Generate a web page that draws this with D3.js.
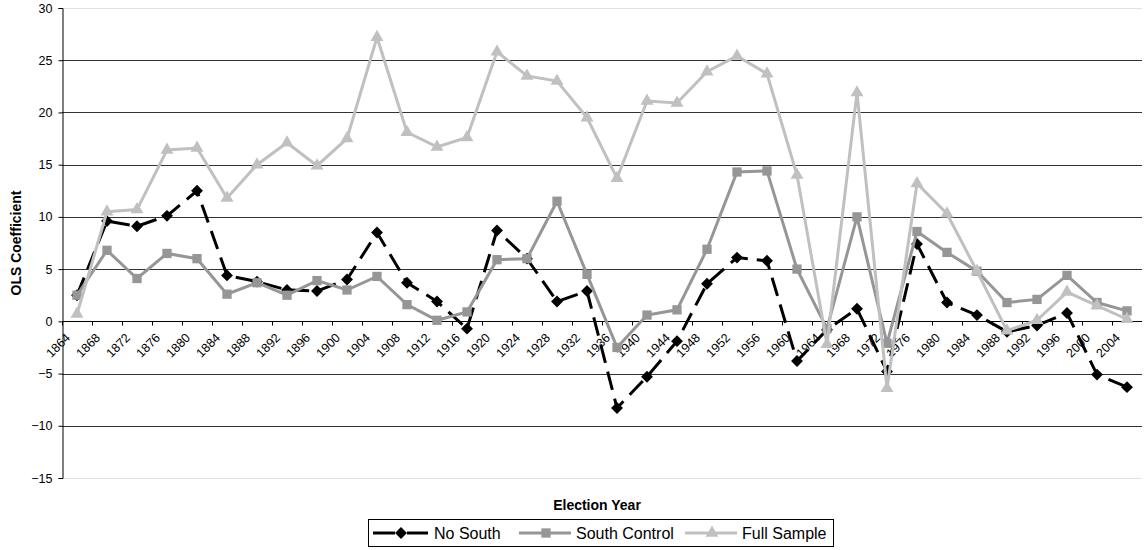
<!DOCTYPE html>
<html>
<head>
<meta charset="utf-8">
<script src="https://cdn.jsdelivr.net/npm/d3@7"></script>
<style>
  body { margin: 0; background: #fff; }
  text { font-family: "Liberation Sans", Arial, sans-serif; }
</style>
</head>
<body>
<svg id="chart"></svg>
<script>
const years = [1864, 1868, 1872, 1876, 1880, 1884, 1888, 1892, 1896, 1900,
    1904, 1908, 1912, 1916, 1920, 1924, 1928, 1932, 1936, 1940,
    1944, 1948, 1952, 1956, 1960, 1964, 1968, 1972, 1976, 1980,
    1984, 1988, 1992, 1996, 2000, 2004];

const noSouth = [2.5, 9.6, 9.1, 10.1, 12.5, 4.4, 3.8, 3.0, 2.9, 4.0,
    8.5, 3.7, 1.9, -0.7, 8.7, 6.0, 1.9, 2.9, -8.3, -5.3,
    -1.9, 3.6, 6.1, 5.8, -3.8, -0.8, 1.2, -4.8, 7.4, 1.8,
    0.6, -1.0, -0.4, 0.8, -5.1, -6.3];

const southControl = [2.5, 6.8, 4.1, 6.5, 6.0, 2.6, 3.7, 2.5, 3.9, 3.0,
    4.3, 1.6, 0.1, 0.9, 5.9, 6.0, 11.5, 4.5, -2.5, 0.6,
    1.1, 6.9, 14.3, 14.4, 5.0, -0.7, 10.0, -2.1, 8.6, 6.6,
    4.8, 1.8, 2.1, 4.4, 1.8, 1.0];

const fullSample = [0.7, 10.5, 10.7, 16.4, 16.6, 11.8, 15.0, 17.1, 14.9, 17.5,
    27.2, 18.1, 16.7, 17.6, 25.8, 23.5, 23.0, 19.5, 13.7, 21.1,
    20.9, 23.9, 25.4, 23.7, 14.0, -2.2, 21.9, -6.4, 13.2, 10.3,
    4.8, -0.9, 0.1, 2.8, 1.5, 0.2];

const yTicks = [-15, -10, -5, 0, 5, 10, 15, 20, 25, 30];

const w = 1146;
const h = 550;
const plotLeft = 62, plotRight = 1142, plotTop = 8, plotBottom = 478;

const svg = d3.select("#chart")
    .attr("width", w)
    .attr("height", h);

const x = d3.scaleBand()
    .domain(years)
    .range([plotLeft, plotRight])
    .padding(0);

const y = d3.scaleLinear()
    .domain([-15, 30])
    .range([plotBottom, plotTop]);

const cx = (d) => x(d) + x.bandwidth() / 2;

// gridlines
svg.append("g")
    .selectAll("line")
    .data(yTicks)
    .enter()
    .append("line")
    .attr("x1", plotLeft)
    .attr("x2", plotRight)
    .attr("y1", (d) => Math.round(y(d)) + 0.5)
    .attr("y2", (d) => Math.round(y(d)) + 0.5)
    .attr("stroke", (d) => (d === 30 || d === -15) ? "#e2e2e2" : "#333")
    .attr("stroke-width", 1.2);

// y axis
const yAxis = d3.axisLeft(y)
    .tickValues(yTicks)
    .tickSize(4)
    .tickPadding(6);
const gy = svg.append("g")
    .attr("transform", `translate(${plotLeft + 0.5},0)`)
    .call(yAxis);
gy.select(".domain").attr("stroke", "#000");
gy.selectAll(".tick line").attr("stroke", "#000");
gy.selectAll(".tick text")
    .attr("font-size", 12.5)
    .attr("fill", "#000")
    .style("font-family", "'Liberation Sans', Arial, sans-serif");

// x axis at zero
const y0 = Math.round(y(0)) + 0.5;
svg.append("line")
    .attr("x1", plotLeft)
    .attr("x2", plotRight)
    .attr("y1", y0)
    .attr("y2", y0)
    .attr("stroke", "#000");

svg.append("g")
    .selectAll("line")
    .data(years)
    .enter()
    .append("line")
    .attr("x1", (d) => Math.round(x(d)) + 0.5)
    .attr("x2", (d) => Math.round(x(d)) + 0.5)
    .attr("y1", y0)
    .attr("y2", y0 + 4)
    .attr("stroke", "#000");

svg.append("g")
    .selectAll("text")
    .data(years)
    .enter()
    .append("text")
    .attr("transform", (d) => `translate(${cx(d) - 6},${y0 + 17}) rotate(-45)`)
    .attr("text-anchor", "end")
    .attr("font-size", 12.5)
    .text((d) => d);

// axis titles
svg.append("text")
    .attr("transform", `translate(21,${(plotTop + plotBottom) / 2}) rotate(-90)`)
    .attr("text-anchor", "middle")
    .attr("font-size", 14)
    .attr("font-weight", "bold")
    .text("OLS Coefficient");

svg.append("text")
    .attr("x", 597)
    .attr("y", 510)
    .attr("text-anchor", "middle")
    .attr("font-size", 14)
    .attr("font-weight", "bold")
    .text("Election Year");

// series
const series = [
    { name: "No South", values: noSouth, color: "#000000", dash: "19,9", marker: "diamond" },
    { name: "South Control", values: southControl, color: "#969696", dash: null, marker: "square" },
    { name: "Full Sample", values: fullSample, color: "#c0c0c0", dash: null, marker: "triangle" }
];

const symbolOf = {
    diamond: d3.symbol().type(d3.symbolDiamond2).size(90),
    square: d3.symbol().type(d3.symbolSquare2).size(110),
    triangle: d3.symbol().type(d3.symbolTriangle2).size(120)
};

const line = d3.line()
    .x((d) => cx(d.year))
    .y((d) => y(d.value));

series.forEach((s) => {
    const pts = years.map((yr, i) => ({ year: yr, value: s.values[i] }));
    svg.append("path")
        .datum(pts)
        .attr("d", line)
        .attr("fill", "none")
        .attr("stroke", s.color)
        .attr("stroke-width", 3)
        .attr("stroke-dasharray", s.dash);
    svg.append("g")
        .selectAll("path")
        .data(pts)
        .enter()
        .append("path")
        .attr("d", symbolOf[s.marker])
        .attr("transform", (d) => `translate(${cx(d.year)},${y(d.value)})`)
        .attr("fill", s.color);
});

// legend
const legend = svg.append("g");
legend.append("rect")
    .attr("x", 368.5)
    .attr("y", 519.5)
    .attr("width", 465)
    .attr("height", 27)
    .attr("fill", "#fff")
    .attr("stroke", "#000");

const legendX = [373, 519, 685];
series.forEach((s, i) => {
    const lx = legendX[i];
    const ly = 533;
    if (s.dash) {
        legend.append("line")
            .attr("x1", lx).attr("x2", lx + 22)
            .attr("y1", ly).attr("y2", ly)
            .attr("stroke", s.color).attr("stroke-width", 3);
        legend.append("line")
            .attr("x1", lx + 34).attr("x2", lx + 55)
            .attr("y1", ly).attr("y2", ly)
            .attr("stroke", s.color).attr("stroke-width", 3);
    } else {
        legend.append("line")
            .attr("x1", lx)
            .attr("x2", lx + 52)
            .attr("y1", ly)
            .attr("y2", ly)
            .attr("stroke", s.color)
            .attr("stroke-width", 3);
    }
    legend.append("path")
        .attr("d", symbolOf[s.marker])
        .attr("transform", `translate(${lx + (s.dash ? 28 : 27)},${ly})`)
        .attr("fill", s.color);
    legend.append("text")
        .attr("x", lx + (s.dash ? 61 : 57))
        .attr("y", ly + 6)
        .attr("font-size", 16)
        .text(s.name);
});
</script>
</body>
</html>
